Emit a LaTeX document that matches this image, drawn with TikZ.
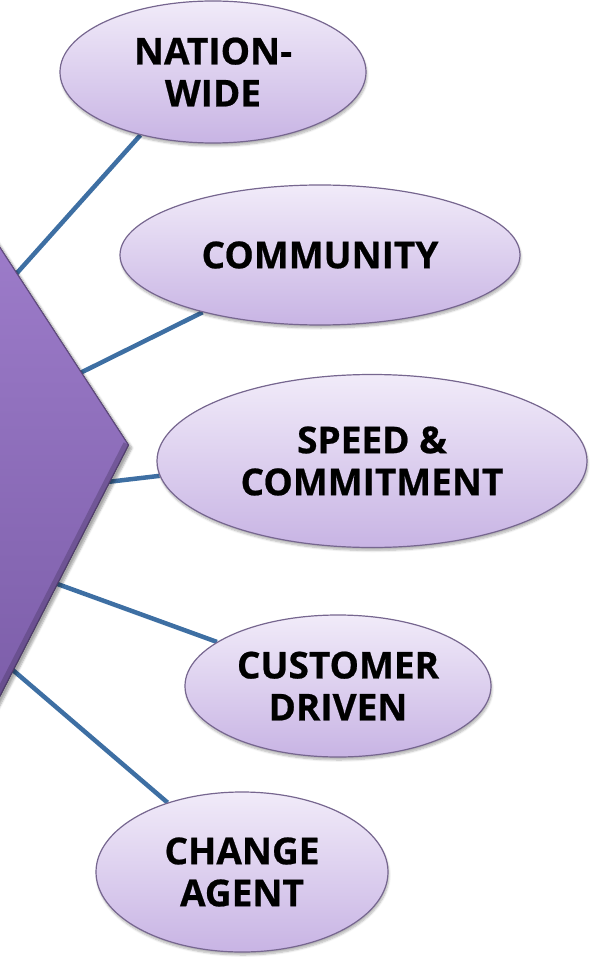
\documentclass[tikz,border=0pt]{standalone}
\usepackage{fontspec}
\setmainfont{Open Sans}[BoldFeatures={FakeBold=0.6}]
\usetikzlibrary{shapes.geometric,shadows.blur,backgrounds}

\definecolor{linie}{HTML}{3E6FA3}
\definecolor{formOben}{HTML}{9E7DCB}
\definecolor{formUnten}{HTML}{7A5CA7}
\definecolor{ellOben}{HTML}{F1EBF9}
\definecolor{ellUnten}{HTML}{C8B4E4}
\definecolor{ellRand}{HTML}{76668F}

\begin{document}
\begin{tikzpicture}[x=1pt,y=-1pt,
    verbindung/.style={draw=linie, line width=4.5pt},
    blase/.style={ellipse, draw=ellRand, line width=1.2pt, top color=ellOben, bottom color=ellUnten,
        inner sep=0pt, align=center, font=\fontsize{37}{42}\selectfont\bfseries,
        blur shadow={shadow xshift=1pt, shadow yshift=-3pt, shadow opacity=30, shadow blur steps=6}}]
    \useasboundingbox (0,0) rectangle (595,957);
    \clip (0,0) rectangle (595,957);

    %Ellipsen
    \node[blase, minimum width=306, minimum height=142] (nation) at (213,72)  {NATION-\\WIDE};
    \node[blase, minimum width=400, minimum height=140] (komm)   at (320,255) {COMMUNITY};
    \node[blase, minimum width=430, minimum height=173] (tempo)  at (372,461) {SPEED \&\\COMMITMENT};
    \node[blase, minimum width=306, minimum height=142] (kunde)  at (338,686) {CUSTOMER\\DRIVEN};
    \node[blase, minimum width=292, minimum height=160] (wandel) at (242,872) {CHANGE\\AGENT};

    \begin{scope}[on background layer]
        %Linien (Anfang hinter der Form)
        \coordinate (a1) at (0,292);
        \coordinate (a2) at (60,383);
        \coordinate (a3) at (90,484);
        \coordinate (a4) at (30,574);
        \coordinate (a5) at (0,659);
        \draw[verbindung] (a1) -- (nation.221);
        \draw[verbindung] (a2) -- (komm.206);
        \draw[verbindung] (a3) -- (tempo.184);
        \draw[verbindung] (a4) -- (kunde.160);
        \draw[verbindung] (a5) -- (wandel.137);

        %Form links
        \fill[top color=formOben, bottom color=formUnten,
            blur shadow={shadow xshift=3pt, shadow yshift=-3pt, shadow opacity=35, shadow blur steps=6}]
            (-20,216) -- (129,445) -- (-20,736) -- cycle;
        \begin{scope}
            \clip (-20,216) -- (129,445) -- (-20,736) -- cycle;
            \draw[formUnten!55!black, line width=12pt, opacity=.35] (129,445) -- (-20,736);  %Kante unten
            \draw[formUnten!50!black, line width=2pt, opacity=.6] (-20,216) -- (129,445) -- (-20,736);
        \end{scope}
    \end{scope}
\end{tikzpicture}
\end{document}
